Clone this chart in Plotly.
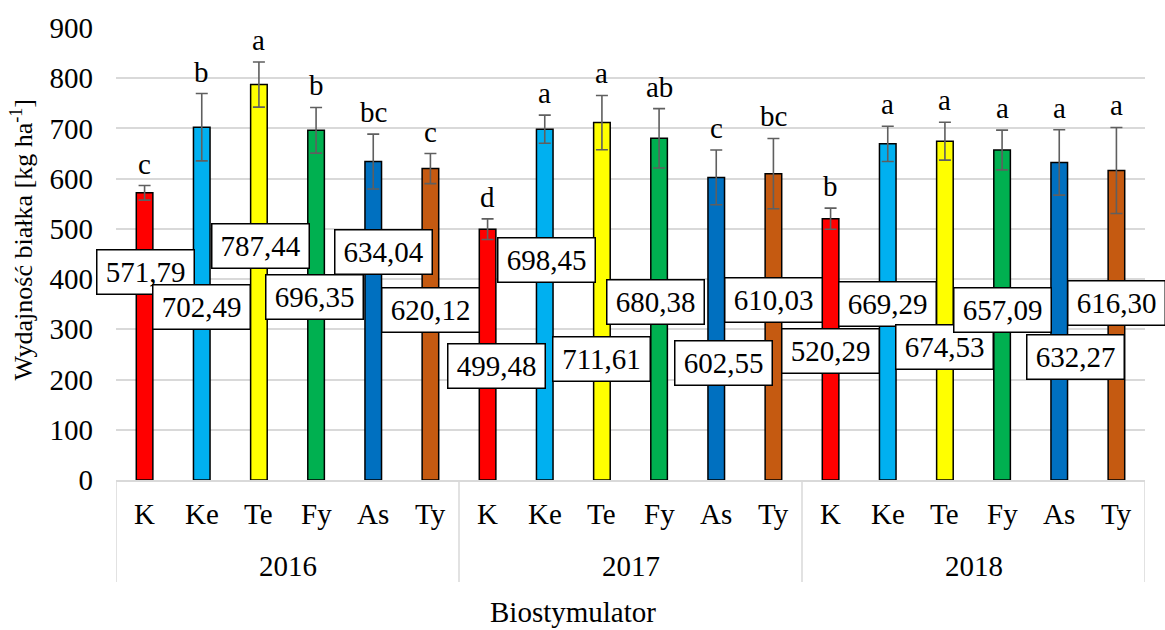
import plotly.graph_objects as go

years = ["2016", "2017", "2018"]
biostim = ["K", "Ke", "Te", "Fy", "As", "Ty"]
values_2016 = [571.79, 702.49, 787.44, 696.35, 634.04, 620.12]
values_2017 = [499.48, 698.45, 711.61, 680.38, 602.55, 610.03]
values_2018 = [520.29, 669.29, 674.53, 657.09, 632.27, 616.30]
errors_2016 = [14.5, 67, 45, 45.5, 54.6, 30]
errors_2017 = [20.5, 28, 54, 59, 54.6, 70]
errors_2018 = [21, 35, 37.7, 39.5, 65, 85.6]
letters_2016 = ["c", "b", "a", "b", "bc", "c"]
letters_2017 = ["d", "a", "a", "ab", "c", "bc"]
letters_2018 = ["b", "a", "a", "a", "a", "a"]
labels_2016 = ["571,79", "702,49", "787,44", "696,35", "634,04", "620,12"]
labels_2017 = ["499,48", "698,45", "711,61", "680,38", "602,55", "610,03"]
labels_2018 = ["520,29", "669,29", "674,53", "657,09", "632,27", "616,30"]

# label box offsets (pixels) relative to the bar top
label_dx = [1, 0, 2, -2, 10, 0, 9, 2, 0, -4, 7, 0, 0, 0, 0, 0, 16, 0]
label_dy = [-79, -180, -161, -167, -90, -141, -137, -131, -236, -164, -186, -126,
            -132, -160, -206, -160, -195, -133]

colors = ["#FF0000", "#00B0F0", "#FFFF00", "#00B050", "#0070C0", "#C55A11"]

values = values_2016 + values_2017 + values_2018
errors = errors_2016 + errors_2017 + errors_2018
letters = letters_2016 + letters_2017 + letters_2018
labels = labels_2016 + labels_2017 + labels_2018
cats = [f"{y} {b}" for y in years for b in biostim]
bar_colors = colors * 3

FONT = "Liberation Serif"
FS = 29

fig = go.Figure()
fig.add_trace(go.Bar(
    x=cats, y=values,
    marker=dict(color=bar_colors, line=dict(color="black", width=1.5)),
    width=0.29,
    error_y=dict(type="data", array=errors, visible=True,
                 color="#5f5f5f", thickness=1.6, width=6),
    showlegend=False,
    hoverinfo="x+y",
))

annotations = []
# significance letters
for i, c in enumerate(cats):
    annotations.append(dict(
        x=c, y=values[i] + errors[i], xref="x", yref="y",
        text=letters[i], showarrow=False, yanchor="bottom", yshift=4,
        font=dict(family=FONT, size=FS, color="black")))
# value label boxes
for i, c in enumerate(cats):
    annotations.append(dict(
        x=c, y=values[i], xref="x", yref="y",
        text=labels[i], showarrow=False, xanchor="center", yanchor="middle",
        xshift=label_dx[i], yshift=label_dy[i],
        width=90, height=37, borderpad=3,
        bgcolor="white", bordercolor="black", borderwidth=1.5,
        font=dict(family=FONT, size=FS, color="black")))
# category labels
for i, c in enumerate(cats):
    annotations.append(dict(
        x=c, y=0, xref="x", yref="paper", text=biostim[i % 6],
        showarrow=False, yanchor="middle", yshift=-34,
        font=dict(family=FONT, size=FS, color="black")))
# year labels
for j, yr in enumerate(years):
    annotations.append(dict(
        x=j * 6 + 2.5, y=0, xref="x", yref="paper", text=yr,
        showarrow=False, yanchor="middle", yshift=-86,
        font=dict(family=FONT, size=FS, color="black")))
# axis titles
annotations.append(dict(
    x=0.5, y=0, xref="paper", yref="paper", text="Biostymulator",
    showarrow=False, yanchor="middle", xshift=-58, yshift=-132,
    font=dict(family=FONT, size=FS, color="black")))
annotations.append(dict(
    x=0, y=0.53, xref="paper", yref="paper",
    text="Wydajność białka [kg ha<sup>-1</sup>]",
    showarrow=False, textangle=-90, xanchor="center", yanchor="middle",
    xshift=-94,
    font=dict(family=FONT, size=26, color="black")))

shapes = []
for xb in [-0.5, 5.5, 11.5, 17.5]:
    shapes.append(dict(type="line", xref="x", yref="paper",
                       x0=xb, x1=xb, y0=0, y1=-0.2255,
                       line=dict(color="#d9d9d9", width=1.5)))

fig.update_layout(
    width=1165, height=630,
    margin=dict(l=116, r=20, t=26, b=150),
    plot_bgcolor="white", paper_bgcolor="white",
    font=dict(family=FONT, size=FS, color="black"),
    annotations=annotations, shapes=shapes,
    bargap=0.7,
)
fig.update_xaxes(
    type="category", categoryorder="array", categoryarray=cats,
    range=[-0.5, 17.5], showticklabels=False, ticks="",
    showline=True, linecolor="#d9d9d9", linewidth=1.5,
    showgrid=False, zeroline=False,
)
fig.update_yaxes(
    range=[0, 900], dtick=100, tick0=0,
    showgrid=True, gridcolor="#d9d9d9", gridwidth=1.5,
    zeroline=False, showline=False, ticks="",
    tickfont=dict(family=FONT, size=FS, color="black"),
    ticklabelstandoff=22,
)

fig.write_html("out.html")
